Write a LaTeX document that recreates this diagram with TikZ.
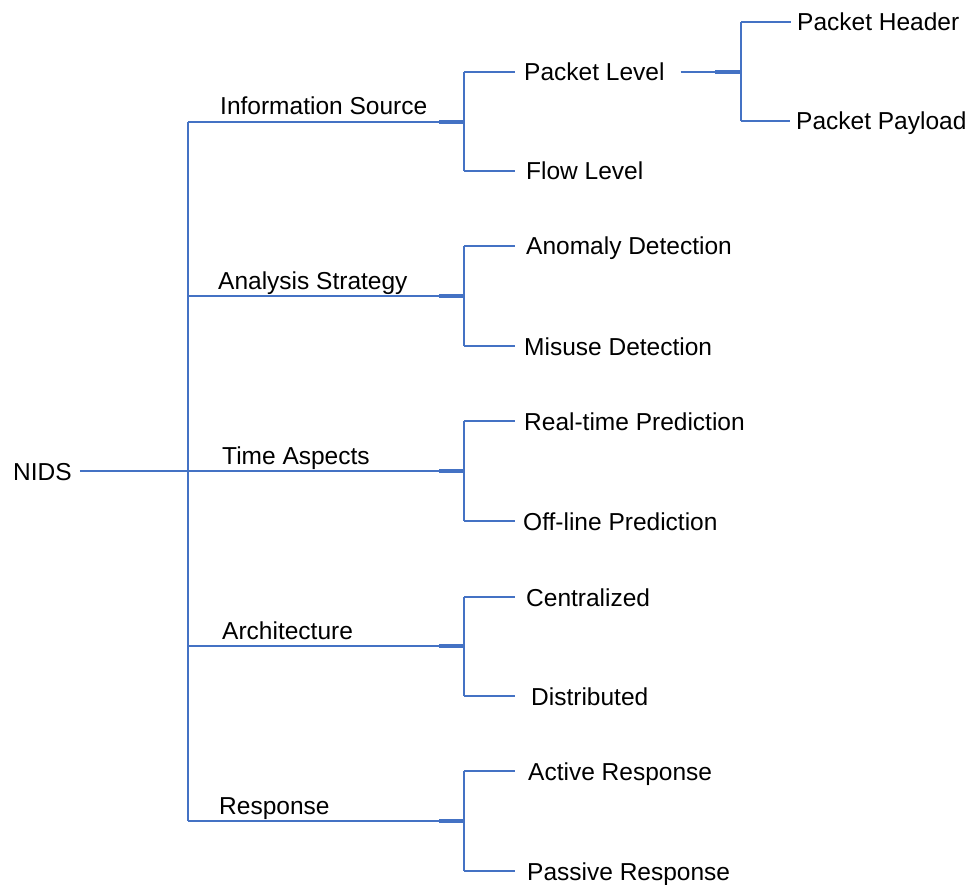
\documentclass[tikz,border=0pt]{standalone}
\usepackage{fontspec}
\setmainfont{Liberation Sans}
\definecolor{lineblue}{HTML}{4472C4}
\begin{document}
\begin{tikzpicture}[x=1pt,y=-1pt,
  conn/.style={draw=lineblue,line width=2pt},
  thickconn/.style={draw=lineblue,line width=3.2pt},
  lbl/.style={inner sep=0pt,text height=21pt,text depth=3pt,anchor=west,font=\fontsize{24.5}{29}\selectfont},
  toplbl/.style={inner sep=0pt,anchor=base west,font=\fontsize{24.5}{29}\selectfont},
  ]
\useasboundingbox (0,0) rectangle (974,885);

% root
\node[lbl] (nids) at (13,471) {NIDS};

% trunk and level-1 junctions
\coordinate (t1) at (188,122);
\coordinate (t2) at (188,296);
\coordinate (t3) at (188,471);
\coordinate (t4) at (188,646);
\coordinate (t5) at (188,821);
\coordinate (j1) at (464,122);
\coordinate (j2) at (464,296);
\coordinate (j3) at (464,471);
\coordinate (j4) at (464,646);
\coordinate (j5) at (464,821);

\draw[conn] ([xshift=8pt]nids.east) -- (t3);
\draw[conn] (t1) -- (t5);
\foreach \i in {1,...,5}{
  \draw[conn] (t\i) -- (j\i);
  \draw[thickconn] ([xshift=-25pt]j\i) -- (j\i);
}

% level-1 labels
\node[toplbl] (is) at (220,115) {Information Source};
\node[toplbl] (as) at (218,289) {Analysis Strategy};
\node[toplbl] (ta) at (222,464) {Time Aspects};
\node[toplbl] (ar) at (222,639) {Architecture};
\node[toplbl] (re) at (219,814) {Response};

% level-2 labels
\node[lbl] (pl) at (524,72) {Packet Level};
\node[lbl] (fl) at (526,171) {Flow Level};
\node[lbl] (ad) at (526,246) {Anomaly Detection};
\node[lbl] (md) at (524,346) {Misuse Detection};
\node[lbl] (rp) at (524,421) {Real-time Prediction};
\node[lbl] (op) at (523,521) {Off-line Prediction};
\node[lbl] (ce) at (526,597) {Centralized};
\node[lbl] (di) at (531,696) {Distributed};
\node[lbl] (ac) at (528,771) {Active Response};
\node[lbl] (pa) at (527,871) {Passive Response};

% level-2 brackets
\foreach \j/\a/\b in {j1/pl/fl, j2/ad/md, j3/rp/op, j4/ce/di, j5/ac/pa}{
  \draw[conn] (\j |- \a.west) -- (\j |- \b.west);
  \draw[conn] (\j |- \a.west) -- (515,0 |- \a.west);
  \draw[conn] (\j |- \b.west) -- (515,0 |- \b.west);
}

% level-3
\node[lbl] (ph) at (797,22) {Packet Header};
\node[lbl] (pp) at (796,121) {Packet Payload};
\coordinate (k) at (741,72);
\draw[conn] ([xshift=16pt]pl.east) -- (k);
\draw[thickconn] ([xshift=-26pt]k) -- (k);
\draw[conn] (k |- ph.west) -- (k |- pp.west);
\draw[conn] (k |- ph.west) -- ([xshift=-6pt]ph.west);
\draw[conn] (k |- pp.west) -- ([xshift=-6pt]pp.west);
\end{tikzpicture}
\end{document}
